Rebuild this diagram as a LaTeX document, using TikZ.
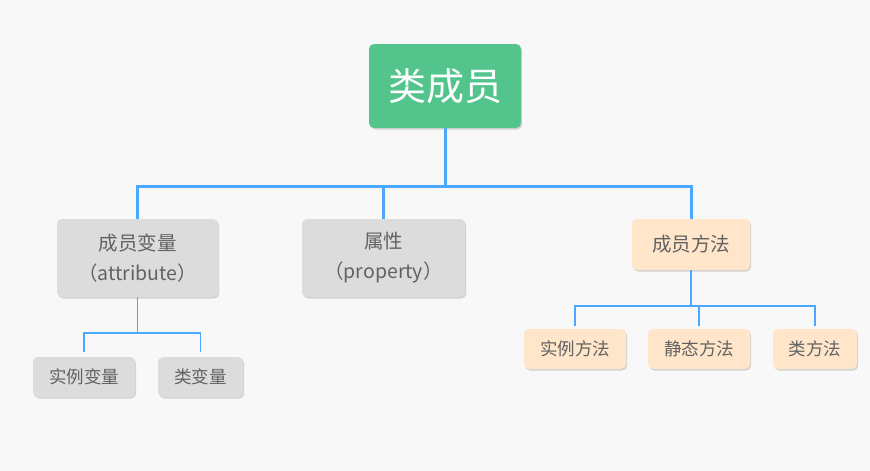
\documentclass[tikz,border=0pt]{standalone}
\usepackage{fontspec}
\setmainfont{Noto Sans CJK SC}
\usetikzlibrary{shadows}
\definecolor{bgc}{HTML}{F8F8F8}
\definecolor{rootc}{HTML}{52C48C}
\definecolor{grayc}{HTML}{DCDCDC}
\definecolor{peachc}{HTML}{FFE5CA}
\definecolor{txtc}{HTML}{626262}
\definecolor{linec}{HTML}{4AA8FF}
\tikzset{
  base/.style={rounded corners=5pt, inner sep=0pt, align=center, text=txtc,
    drop shadow={shadow xshift=1.2pt, shadow yshift=-1.5pt, opacity=0.25, fill=black!60}},
  rootbox/.style={base, fill=rootc, text=white, font=\fontsize{38}{44}\selectfont,
    minimum width=152pt, minimum height=84pt},
  graybox/.style={base, fill=grayc, font=\fontsize{19.5}{30}\selectfont},
  peachbox/.style={base, fill=peachc, font=\fontsize{19.5}{30}\selectfont},
  smallgray/.style={base, fill=grayc, font=\fontsize{17.5}{20}\selectfont, minimum height=40pt},
  smallpeach/.style={base, fill=peachc, font=\fontsize{17.5}{20}\selectfont, minimum height=40pt},
  thick conn/.style={draw=linec, line width=3pt},
  thin conn/.style={draw=linec, line width=1.8pt},
}
\begin{document}
\begin{tikzpicture}[x=1pt,y=1pt]
\useasboundingbox[fill=bgc] (0,0) rectangle (870,-471);
\node[rootbox] (root) at (445,-86) {类成员};
\node[graybox, minimum width=161pt, minimum height=78pt] (attr) at (137.5,-258) {成员变量\\（attribute）};
\node[graybox, minimum width=163pt, minimum height=78pt] (prop) at (383.5,-258) {属性\\（property）};
\node[peachbox, minimum width=118pt, minimum height=51pt] (meth) at (691,-244.5) {成员方法};
\node[smallgray, minimum width=102pt] (iv) at (84,-377) {实例变量};
\node[smallgray, minimum width=85pt] (cv) at (200.5,-377) {类变量};
\node[smallpeach, minimum width=102pt] (im) at (575,-349) {实例方法};
\node[smallpeach, minimum width=102pt] (sm) at (699,-349) {静态方法};
\node[smallpeach, minimum width=84pt] (cm) at (815,-349) {类方法};
\coordinate (j1) at (445,-186);
\coordinate (j2) at (137.5,-333);
\coordinate (j3) at (691,-306);
\draw[thick conn] (root.south) -- (j1);
\draw[thick conn] (j1) -| (attr.north);
\draw[thick conn] (j1) -| (prop.north);
\draw[thick conn] (j1) -| (meth.north);
\draw[thin conn] (attr.south) -- (j2);
\draw[thin conn, shorten >=5pt] (j2) -| (iv.north);
\draw[thin conn, shorten >=5pt] (j2) -| (cv.north);
\draw[thin conn] (meth.south) -- (j3);
\draw[thin conn, shorten >=3pt] (j3) -| (im.north);
\draw[thin conn, shorten >=3pt] (j3) -| (sm.north);
\draw[thin conn, shorten >=3pt] (j3) -| (cm.north);
\end{tikzpicture}
\end{document}
